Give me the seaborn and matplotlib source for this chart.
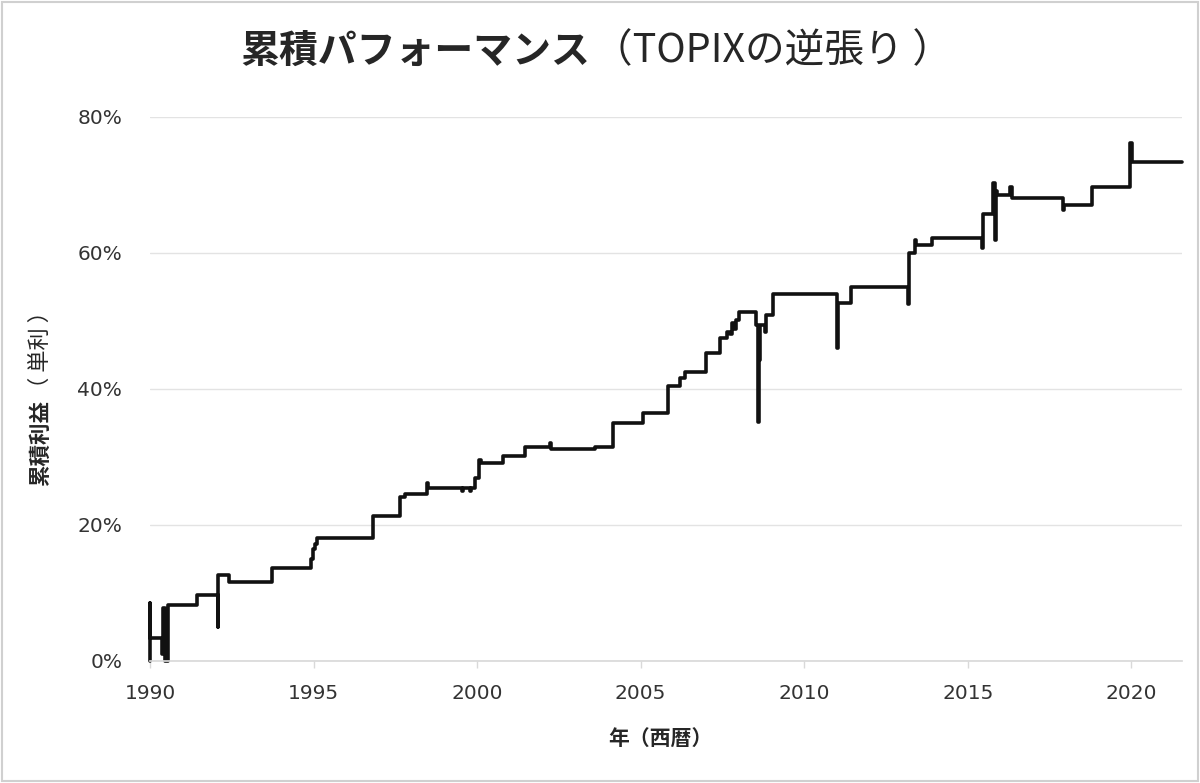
import seaborn as sns
import matplotlib.pyplot as plt
import matplotlib.ticker as mticker
import pandas as pd

# Cumulative performance (simple interest)
# year as decimal, value in percent; repeated steps = intraday spikes
years = [
    1990.00, 1990.00, 1990.01, 1990.37, 1990.40, 1990.45, 1990.55, 1991.44,
    1992.08, 1992.09, 1992.40, 1993.73, 1994.92, 1994.97, 1995.05, 1995.12,
    1996.82, 1997.65, 1997.80, 1998.47, 1998.50, 1999.54, 1999.57, 1999.79,
    1999.82, 1999.94, 2000.05, 2000.12, 2000.80, 2001.47, 2002.23, 2002.26,
    2003.61, 2004.16, 2005.08, 2005.84, 2006.21, 2006.36, 2007.00, 2007.43,
    2007.65, 2007.74, 2007.80, 2007.85, 2007.90, 2008.01, 2008.53, 2008.58,
    2008.61, 2008.66, 2008.80, 2008.83, 2009.05, 2011.01, 2011.03, 2011.44,
    2013.18, 2013.19, 2013.39, 2013.42, 2013.91, 2015.44, 2015.46, 2015.78,
    2015.82, 2015.86, 2015.90, 2016.30, 2016.34, 2017.92, 2017.94, 2018.81,
    2019.97, 2020.02, 2021.55,
]
cum_profit = [
    0.0, 8.5, 3.4, 1.0, 7.8, 0.0, 8.2, 9.7,
    5.0, 12.6, 11.6, 13.7, 15.0, 16.5, 17.2, 18.1,
    21.3, 24.1, 24.6, 26.2, 25.4, 24.9, 25.4, 24.9,
    25.4, 26.9, 29.6, 29.1, 30.1, 31.5, 32.0, 31.2,
    31.5, 35.0, 36.5, 40.4, 41.6, 42.5, 45.3, 47.5,
    48.4, 48.0, 49.7, 48.8, 50.1, 51.3, 49.4, 35.1,
    44.3, 49.4, 48.4, 50.9, 54.0, 46.0, 52.6, 55.0,
    52.5, 60.0, 61.9, 61.2, 62.2, 60.7, 65.7, 70.3,
    61.8, 69.0, 68.5, 69.6, 68.1, 66.3, 67.0, 69.6,
    76.2, 73.4, 73.4,
]
x_ticks = [1990, 1995, 2000, 2005, 2010, 2015, 2020]
y_ticks = [0, 20, 40, 60, 80]

df = pd.DataFrame({"year": years, "profit": cum_profit})

sns.set_theme(style="white")
plt.rcParams["font.family"] = ["DejaVu Sans", "Noto Sans CJK JP"]
jp = ["Noto Sans CJK JP", "DejaVu Sans"]

fig = plt.figure(figsize=(12, 7.83), dpi=100)
ax = fig.add_axes([0.125, 0.156, 0.86, 0.695])

sns.lineplot(data=df, x="year", y="profit", ax=ax, estimator=None, sort=False,
             drawstyle="steps-post", color="#111111", linewidth=2.6, clip_on=False)

ax.set_xlim(1990, 2021.55)
ax.set_ylim(0, 80)
ax.set_xticks(x_ticks)
ax.set_yticks(y_ticks)
ax.yaxis.set_major_formatter(mticker.FuncFormatter(lambda v, p: f"{v:.0f}%"))
ax.grid(axis="y", color="#e3e3e3", linewidth=1)
ax.grid(axis="x", visible=False)
for s in ["left", "right", "top"]:
    ax.spines[s].set_visible(False)
ax.spines["bottom"].set_color("#d9d9d9")
ax.tick_params(axis="x", length=5, width=1, color="#d9d9d9", pad=12,
               labelsize=14.5, labelcolor="#333333", bottom=True)
ax.tick_params(axis="y", length=0, pad=20, labelsize=14.5, labelcolor="#333333")
ax.set_xlabel("")
ax.set_ylabel("")

# title: bold main part + regular bracketed part
fig.text(0.492, 0.934, "累積パフォーマンス", ha="right", va="center",
         fontsize=28, fontweight="bold", family=jp)
fig.text(0.494, 0.934, "（TOPIXの逆張り ）", ha="left", va="center",
         fontsize=28.5, family=jp)

# axis labels
fig.text(0.55, 0.057, "年（西暦）", ha="center", va="center",
         fontsize=15, fontweight="bold", family=jp)
fig.text(0.034, 0.489, "累積利益", rotation=90, ha="center", va="top",
         fontsize=15.5, fontweight="bold", family=jp)
fig.text(0.034, 0.491, "（ 単利 ）", rotation=90, ha="center", va="bottom",
         fontsize=16, family=jp)

# thin frame around the picture
fig.patches.append(plt.Rectangle((0.002, 0.003), 0.996, 0.994, transform=fig.transFigure,
                                 fill=False, edgecolor="#d0d0d0", linewidth=1.5))

fig.savefig("out.png", dpi=100)
